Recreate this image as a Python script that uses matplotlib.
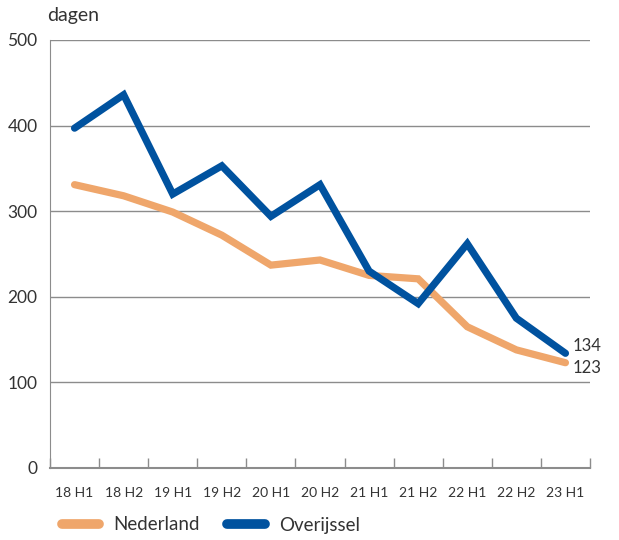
import matplotlib
matplotlib.use("Agg")
import matplotlib.pyplot as plt
import numpy as np

categories = ["18 H1", "18 H2", "19 H1", "19 H2", "20 H1", "20 H2",
              "21 H1", "21 H2", "22 H1", "22 H2", "23 H1"]
nederland = [331, 318, 299, 272, 237, 243, 225, 221, 165, 138, 123]
overijssel = [397, 436, 320, 353, 294, 331, 230, 192, 262, 175, 134]
y_ticks = [0, 100, 200, 300, 400, 500]

plt.rcParams['font.family'] = ['Lato', 'DejaVu Sans']
TXT = '#333333'
GRID = '#8c8c8c'
ORANGE = '#efa66b'
BLUE = '#00529f'

fig = plt.figure(figsize=(6.19, 5.40), dpi=100)
ax = fig.add_axes([50/619, 72/540, 540/619, 428/540])

x = np.arange(len(categories))
ax.plot(x, nederland, color=ORANGE, lw=5.2, solid_capstyle='round',
        solid_joinstyle='miter', label='Nederland', zorder=3)
ax.plot(x, overijssel, color=BLUE, lw=5.2, solid_capstyle='round',
        solid_joinstyle='miter', label='Overijssel', zorder=4)

ax.set_xlim(-0.5, len(categories) - 0.5)
ax.set_ylim(0, 500)
ax.set_yticks(y_ticks)
ax.set_yticklabels([str(v) for v in y_ticks], fontsize=12.5, color=TXT)
ax.tick_params(axis='y', length=0, pad=9)
ax.yaxis.grid(True, color=GRID, lw=1)
ax.set_axisbelow(True)

ax.set_xticks(x)
ax.set_xticklabels(categories, fontsize=10, color=TXT)
ax.tick_params(axis='x', which='major', length=0, pad=14)
ax.set_xticks(np.arange(len(categories) + 1) - 0.5, minor=True)
ax.tick_params(axis='x', which='minor', length=7.5, color=GRID, width=1, direction='in')
for lbl in ax.get_xticklabels(minor=True):
    lbl.set_visible(False)

for s in ['top', 'right']:
    ax.spines[s].set_visible(False)
ax.spines['left'].set_color(GRID)
ax.spines['bottom'].set_color(GRID)
ax.spines['bottom'].set_linewidth(1.5)

ax.text(len(categories) - 1 + 0.14, overijssel[-1] + 9, str(overijssel[-1]),
        fontsize=12, color=TXT, va='center', ha='left')
ax.text(len(categories) - 1 + 0.14, nederland[-1] - 6, str(nederland[-1]),
        fontsize=12, color=TXT, va='center', ha='left')

fig.text(47/619, 1 - 15/540, 'dagen', fontsize=14, color=TXT, va='center', ha='left')

leg = fig.legend(loc='center left', bbox_to_anchor=(45/619, 15/540), ncol=2, frameon=False,
                 fontsize=13.5, handlelength=2.0, columnspacing=1.45, handletextpad=0.75,
                 labelcolor=TXT)
for line in leg.get_lines():
    line.set_linewidth(7)
    line.set_solid_capstyle('round')

fig.savefig('out.png', dpi=100)
